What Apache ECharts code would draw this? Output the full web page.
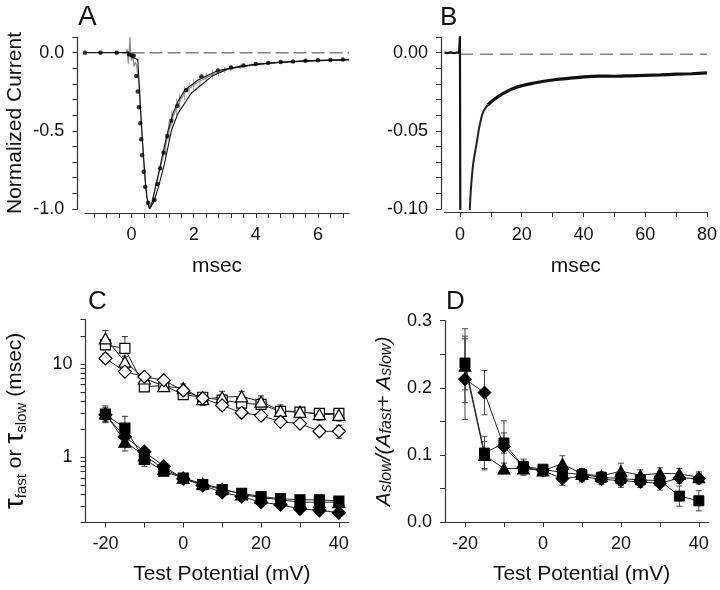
<!DOCTYPE html>
<html><head><meta charset="utf-8">
<script src="https://cdn.jsdelivr.net/npm/echarts@6/dist/echarts.min.js"></script>
<style>html,body{margin:0;padding:0;background:#fff}#c{width:720px;height:590px}</style>
</head><body><div id="c"></div><script>
// ---------- Panel A (normalized current vs msec) ----------
const aDots = [[-1.5,0],[-1.0,0],[-0.48,0],[-0.08,-0.01],[0.0,-0.015],[0.07,-0.02],[0.15,-0.149],[0.20,-0.249],[0.24,-0.35],[0.28,-0.452],[0.31,-0.554],[0.34,-0.657],[0.39,-0.761],[0.44,-0.857],[0.53,-0.96],[0.74,-0.942],[0.83,-0.84],[0.92,-0.74],[1.03,-0.64],[1.15,-0.533],[1.28,-0.435],[1.47,-0.341],[1.76,-0.239],[2.25,-0.153],[2.78,-0.115],[3.2,-0.095],[3.6,-0.082],[4.0,-0.072],[4.4,-0.066],[4.8,-0.06],[5.2,-0.056],[5.6,-0.052],[6.0,-0.049],[6.4,-0.047],[6.8,-0.044]];
const aFitL = [[-1.5,0],[-0.2,0],[-0.1,0.005],[-0.05,-0.01],[0,-0.03],[0.1,-0.035],[0.2,-0.045],[0.22,-0.12],[0.29,-0.37],[0.37,-0.62],[0.45,-0.84],[0.52,-0.96],[0.58,-1.0],[0.66,-0.96],[0.75,-0.88],[0.85,-0.79],[1.0,-0.65],[1.17,-0.5],[1.33,-0.39],[1.5,-0.31],[1.71,-0.24],[2.14,-0.175],[2.78,-0.115],[3.5,-0.088],[4.5,-0.065],[5.5,-0.054],[6.5,-0.047],[7,-0.044]];
const aFitR = [[0.58,-1.0],[0.7,-0.96],[0.85,-0.87],[1.06,-0.71],[1.28,-0.5],[1.49,-0.39],[1.92,-0.26],[2.57,-0.153],[3.1,-0.105],[4,-0.075],[5,-0.06],[6,-0.051],[7,-0.047]];
const aGrey = [[-0.3,0],[-0.18,-0.005],[-0.14,0.02],[-0.11,-0.07],[-0.08,0.0],[-0.05,0.1],[-0.03,-0.03],[0.0,-0.05],[0.04,-0.02],[0.08,-0.09],[0.12,-0.06],[0.16,-0.08],[0.2,-0.07],[0.24,-0.2],[0.32,-0.48],[0.4,-0.74],[0.48,-0.92],[0.57,-0.99],[0.66,-0.95],[0.78,-0.85],[0.92,-0.74],[1.05,-0.64],[1.2,-0.5],[1.35,-0.4],[1.5,-0.33],[1.7,-0.26],[2.0,-0.205],[2.4,-0.16],[2.8,-0.125],[3.2,-0.1],[4,-0.073],[5,-0.058],[6,-0.05],[7,-0.045]];
// [time, centre, half-length]
const aErr = [[1.1,-0.6,0.06],[1.2,-0.5,0.06],[1.3,-0.43,0.06],[1.45,-0.35,0.055],[1.55,-0.31,0.05],[1.7,-0.26,0.045],[1.85,-0.23,0.04],[2.0,-0.205,0.04],[2.2,-0.18,0.035],[2.4,-0.16,0.03],[2.6,-0.14,0.03],[2.8,-0.125,0.025],[3.0,-0.112,0.02],[3.2,-0.1,0.018],[3.5,-0.09,0.015],[3.8,-0.082,0.012],[4.2,-0.072,0.01],[4.6,-0.065,0.008],[5.0,-0.06,0.006],[5.5,-0.055,0.006],[6.0,-0.05,0.005],[6.5,-0.048,0.005]];
const aZero = [[0,0],[7,0]];
const aXTicks = [-1.2,-0.8,-0.4,0,0.4,0.8,1.2,1.6,2,2.4,2.8,3.2,3.6,4,4.4,4.8,5.2,5.6,6,6.4,6.8];
const aXLabels = [0,2,4,6];
const aYTicks = [0.1,0,-0.1,-0.2,-0.3,-0.4,-0.5,-0.6,-0.7,-0.8,-0.9,-1.0];
const aYLabels = [0,-0.5,-1.0];

// ---------- Panel B ----------
const bPre = [[-5,0],[-4,-0.0003],[-3,0.0002],[-2,-0.0004],[-1,0.0001],[-0.3,-0.0002],[0,0.0105],[0.15,-0.13]];
const bDecayEarly = [[3.0,-0.115],[3.2,-0.1],[3.6,-0.086],[4.3,-0.071],[5.4,-0.058],[6.4,-0.0463],[7.5,-0.038],[9,-0.0335]];
const bDecay = [[9,-0.0335],[10.8,-0.0303],[14,-0.026],[18.3,-0.0221],[23.6,-0.0196],[30,-0.0175],[35,-0.0165],[40,-0.0155],[45,-0.015],[50,-0.0151],[55,-0.0148],[60,-0.0145],[65,-0.0142],[70,-0.0138],[75,-0.0135],[80,-0.013]];
const bZero = [[0,-0.001],[80,-0.001]];
const bXTicks = [0,10,20,30,40,50,60,70,80];
const bXLabels = [0,20,40,60,80];
const bYTicks = [0.01,0,-0.01,-0.02,-0.03,-0.04,-0.05,-0.06,-0.07,-0.08,-0.09,-0.1];
const bYLabels = [0,-0.05,-0.1];

// ---------- Panels C & D ----------
const potentials = [-20,-15,-10,-5,0,5,10,15,20,25,30,35,40];
const slowSq  = [16, 14.7, 5.7, 5.9, 4.7, 4.4, 4.1, 3.8, 3.7, 3.1, 3.05, 2.95, 2.95];
const slowTri = [18.8, 10.6, 7.0, 5.8, 5.5, 4.2, 4.4, 4.5, 3.95, 3.15, 3.08, 2.9, 2.85];
const slowDia = [11.5, 8.3, 7.3, 6.7, 5.2, 4.3, 3.6, 3.0, 2.8, 2.4, 2.3, 1.9, 1.9];
const fastSq  = [2.9, 2.05, 0.95, 0.71, 0.6, 0.51, 0.45, 0.41, 0.38, 0.36, 0.35, 0.35, 0.34];
const fastTri = [2.95, 1.47, 1.05, 0.75, 0.6, 0.52, 0.46, 0.4, 0.37, 0.35, 0.33, 0.33, 0.33];
const fastDia = [2.85, 1.66, 1.15, 0.8, 0.59, 0.5, 0.42, 0.38, 0.33, 0.31, 0.28, 0.27, 0.255];
const slowSqErr  = [3, 5, 0.6, 0.5, 0.4, 0.4, 0.5, 0.5, 0.6, 0.4, 0.3, 0.3, 0.3];
const slowTriErr = [4, 1.5, 0.8, 0.5, 0.6, 0.6, 0.7, 0.6, 0.6, 0.5, 0.3, 0.4, 0.4];
const slowDiaErr = [1.2, 0.8, 0.6, 0.5, 0.4, 0.3, 0.4, 0.3, 0.3, 0.2, 0.2, 0.2, 0.3];
const fastSqErr  = [0.5, 0.7, 0.15, 0.08, 0.04, 0.03, 0.04, 0.03, 0.03, 0.03, 0.03, 0.03, 0.03];
const fastTriErr = [0.6, 0.3, 0.1, 0.05, 0.03, 0.03, 0.03, 0.03, 0.03, 0.03, 0.03, 0.03, 0.03];
const fastDiaErr = [0.4, 0.2, 0.1, 0.05, 0.03, 0.03, 0.03, 0.03, 0.03, 0.02, 0.02, 0.02, 0.02];
const ratioSq  = [0.237, 0.103, 0.118, 0.083, 0.079, 0.074, 0.071, 0.067, 0.065, 0.063, 0.062, 0.039, 0.032];
const ratioTri = [0.233, 0.100, 0.080, 0.080, 0.077, 0.087, 0.072, 0.069, 0.076, 0.070, 0.073, 0.072, 0.067];
const ratioDia = [0.213, 0.193, 0.113, 0.082, 0.077, 0.065, 0.068, 0.064, 0.062, 0.060, 0.058, 0.066, 0.065];
const ratioSqErr  = [0.04, 0.025, 0.015, 0.008, 0.006, 0.006, 0.006, 0.006, 0.01, 0.006, 0.008, 0.015, 0.015];
const ratioTriErr = [0.055, 0.02, 0.008, 0.008, 0.006, 0.012, 0.008, 0.006, 0.012, 0.008, 0.008, 0.008, 0.008];
const ratioDiaErr = [0.06, 0.033, 0.038, 0.012, 0.008, 0.01, 0.008, 0.008, 0.01, 0.008, 0.01, 0.008, 0.008];
const cdXTicks = [-20,-10,0,10,20,30,40];
const cdXLabels = [-20,0,20,40];
const cYTicks = [0.2,0.3,0.4,0.5,0.6,0.7,0.8,0.9,1,2,3,4,5,6,7,8,9,10,20,30];
const cYLabels = [1,10];
const dYTicks = [0,0.05,0.1,0.15,0.2,0.25,0.3];
const dYLabels = [0,0.1,0.2,0.3];

// ---------- helpers ----------
const FONT = 'Liberation Sans';
const AX = '#333';
function pairs(xs, ys){ return xs.map((x,i)=>[x, ys[i]]); }
function errData(xs, ys, es){ return xs.map((x,i)=>[x, ys[i]-es[i], ys[i]+es[i]]); }
function errRender(color, cap){
  return function(params, api){
    const x = api.value(0);
    const p1 = api.coord([x, api.value(2)]);
    const p2 = api.coord([x, api.value(1)]);
    const st = {stroke: color, lineWidth: 1};
    const ch = [{type:'line', shape:{x1:p1[0],y1:p1[1],x2:p2[0],y2:p2[1]}, style:st}];
    if (cap) {
      ch.push({type:'line', shape:{x1:p1[0]-cap,y1:p1[1],x2:p1[0]+cap,y2:p1[1]}, style:st});
      ch.push({type:'line', shape:{x1:p2[0]-cap,y1:p2[1],x2:p2[0]+cap,y2:p2[1]}, style:st});
    }
    return {type:'group', children: ch};
  };
}
function axisBase(o){
  return Object.assign({
    axisLine:{show:true, onZero:false, lineStyle:{color:AX, width:1.2}},
    splitLine:{show:false},
    nameLocation:'middle',
    nameTextStyle:{fontFamily:FONT, fontSize:21, color:'#111'}
  }, o);
}
function ticks(vals){ return {show:true, inside:false, length:5, lineStyle:{color:AX, width:1}, customValues: vals}; }
function labels(vals, fmt, margin){ return {customValues: vals, formatter: fmt, fontFamily:FONT, fontSize:18, color:'#111', margin: margin, showMinLabel:true, showMaxLabel:true}; }

const chart = echarts.init(document.getElementById('c'), null, {renderer:'canvas'});

const errAData = aErr.map(d => [d[0], d[1]-d[2], d[1]+d[2]]);

const cSeries = [
  {d: slowSq, e: slowSqErr, sym:'rect', size:10, fill:'#fff'},
  {d: slowTri, e: slowTriErr, sym:'triangle', size:[12,11], fill:'#fff'},
  {d: slowDia, e: slowDiaErr, sym:'diamond', size:[13,13], fill:'#fff'},
  {d: fastSq, e: fastSqErr, sym:'rect', size:10, fill:'#000'},
  {d: fastTri, e: fastTriErr, sym:'triangle', size:[12,11], fill:'#000'},
  {d: fastDia, e: fastDiaErr, sym:'diamond', size:[13,13], fill:'#000'}
];
const dSeries = [
  {d: ratioTri, e: ratioTriErr, sym:'triangle', size:[12,11]},
  {d: ratioDia, e: ratioDiaErr, sym:'diamond', size:[13,13]},
  {d: ratioSq, e: ratioSqErr, sym:'rect', size:10}
];

const series = [
  // Panel A
  {type:'line', xAxisIndex:0, yAxisIndex:0, data:aZero, symbol:'none', lineStyle:{color:'#808080', width:1.5, type:[13,5]}, silent:true},
  {type:'custom', xAxisIndex:0, yAxisIndex:0, data:errAData, renderItem: errRender('#999', 0), encode:{x:0, y:[1,2]}, z:2},
  {type:'line', xAxisIndex:0, yAxisIndex:0, data:aGrey, symbol:'none', lineStyle:{color:'#8a8a8a', width:1.2}, z:3},
  {type:'line', xAxisIndex:0, yAxisIndex:0, data:aFitL, symbol:'none', lineStyle:{color:'#111', width:1.1}, z:4},
  {type:'line', xAxisIndex:0, yAxisIndex:0, data:aFitR, symbol:'none', lineStyle:{color:'#111', width:1.1}, z:4},
  {type:'scatter', xAxisIndex:0, yAxisIndex:0, data:aDots, symbol:'circle', symbolSize:4.5, itemStyle:{color:'#000'}, z:5},
  // Panel B
  {type:'line', xAxisIndex:1, yAxisIndex:1, data:bZero, symbol:'none', lineStyle:{color:'#808080', width:1.5, type:[13,7]}},
  {type:'line', xAxisIndex:1, yAxisIndex:1, data:bPre, symbol:'none', clip:true, lineStyle:{color:'#111', width:2.2}},
  {type:'line', xAxisIndex:1, yAxisIndex:1, data:bDecayEarly, symbol:'none', clip:true, smooth:0.3, lineStyle:{color:'#222', width:2}},
  {type:'line', xAxisIndex:1, yAxisIndex:1, data:bDecay, symbol:'none', clip:true, smooth:0.3, lineStyle:{color:'#111', width:3.2}}
];
cSeries.forEach(s => {
  series.push({type:'custom', xAxisIndex:2, yAxisIndex:2, data: errData(potentials, s.d, s.e), renderItem: errRender('#333', 3), encode:{x:0, y:[1,2]}, z:2});
});
cSeries.forEach(s => {
  series.push({type:'line', xAxisIndex:2, yAxisIndex:2, data: pairs(potentials, s.d), symbol:s.sym, symbolSize:s.size,
    lineStyle:{color:'#222', width:1}, itemStyle:{color:s.fill, borderColor:'#000', borderWidth:1.2}, z:3});
});
dSeries.forEach(s => {
  series.push({type:'custom', xAxisIndex:3, yAxisIndex:3, data: errData(potentials, s.d, s.e), renderItem: errRender('#444', 3), encode:{x:0, y:[1,2]}, z:2});
});
dSeries.forEach(s => {
  series.push({type:'line', xAxisIndex:3, yAxisIndex:3, data: pairs(potentials, s.d), symbol:s.sym, symbolSize:s.size,
    lineStyle:{color:'#222', width:1}, itemStyle:{color:'#000', borderColor:'#000', borderWidth:1}, z:3});
});

const option = {
  animation:false,
  backgroundColor:'#fff',
  textStyle:{fontFamily:FONT},
  grid:[
    {left:85, top:37, width:264, height:172},
    {left:444.5, top:37, width:263.8, height:172},
    {left:81.6, top:319.5, width:267, height:203},
    {left:441.6, top:320.7, width:267, height:201.6}
  ],
  xAxis:[
    axisBase({gridIndex:0, type:'value', min:-1.5, max:7, offset:4, name:'msec', nameGap:43,
      axisTick:ticks(aXTicks), axisLabel:labels(aXLabels, v=>String(v), 13)}),
    axisBase({gridIndex:1, type:'value', min:-5, max:80, offset:3, name:'msec', nameGap:44,
      axisTick:ticks(bXTicks), axisLabel:labels(bXLabels, v=>String(v), 14)}),
    axisBase({gridIndex:2, type:'value', min:-26, max:42.5, name:'Test Potential (mV)', nameGap:41,
      nameTextStyle:{fontFamily:FONT, fontSize:21, color:'#111', padding:[0,0,0,13]},
      axisTick:ticks(cdXTicks), axisLabel:labels(cdXLabels, v=>String(v), 13)}),
    axisBase({gridIndex:3, type:'value', min:-26, max:42.5, name:'Test Potential (mV)', nameGap:41,
      nameTextStyle:{fontFamily:FONT, fontSize:21, color:'#111', padding:[0,0,0,13]},
      axisTick:ticks(cdXTicks), axisLabel:labels(cdXLabels, v=>String(v), 13)})
  ],
  yAxis:[
    axisBase({gridIndex:0, type:'value', min:-1.0, max:0.1, offset:7.7, name:'Normalized Current', nameGap:52,
      axisTick:ticks(aYTicks), axisLabel:labels(aYLabels, v=>v.toFixed(1), 13)}),
    axisBase({gridIndex:1, type:'value', min:-0.1, max:0.01, offset:3.5,
      axisTick:ticks(bYTicks), axisLabel:labels(bYLabels, v=>v.toFixed(2), 13)}),
    axisBase({gridIndex:2, type:'log', logBase:10, min:0.2, max:30, offset:-3.4,
      name:'{t|τ}{s|fast}{n| or }{t|τ}{s|slow}{n| (msec)}', nameGap:56,
      nameTextStyle:{fontFamily:FONT, color:'#111', rich:{
        t:{fontFamily:FONT, fontSize:28, color:'#111'},
        n:{fontFamily:FONT, fontSize:21, color:'#111'},
        s:{fontFamily:FONT, fontSize:15, color:'#111', verticalAlign:'bottom', padding:[14,0,0,0]}
      }},
      axisTick:ticks(cYTicks), axisLabel:labels(cYLabels, v=>String(Math.round(v)), 13)}),
    axisBase({gridIndex:3, type:'value', min:0, max:0.3, offset:-3.4,
      name:'{a|A}{s|slow}{a|/(A}{s|fast}{a|+ A}{s|slow}{a|)}', nameGap:50,
      nameTextStyle:{fontFamily:FONT, color:'#111', rich:{
        a:{fontFamily:FONT, fontSize:21, fontStyle:'italic', color:'#111'},
        s:{fontFamily:FONT, fontSize:16, fontStyle:'italic', color:'#111', verticalAlign:'bottom', padding:[5,0,0,0]}
      }},
      axisTick:ticks(dYTicks), axisLabel:labels(dYLabels, v=>v.toFixed(1), 13)})
  ],
  graphic:[
    {type:'text', left:78, top:3, style:{text:'A', fontFamily:FONT, fontSize:28, fill:'#111'}},
    {type:'text', left:440, top:5, style:{text:'B', fontFamily:FONT, fontSize:26, fill:'#111'}},
    {type:'text', left:88, top:289, style:{text:'C', fontFamily:FONT, fontSize:26, fill:'#111'}},
    {type:'text', left:446, top:289, style:{text:'D', fontFamily:FONT, fontSize:26, fill:'#111'}}
  ],
  series: series
};
chart.setOption(option);
</script></body></html>
